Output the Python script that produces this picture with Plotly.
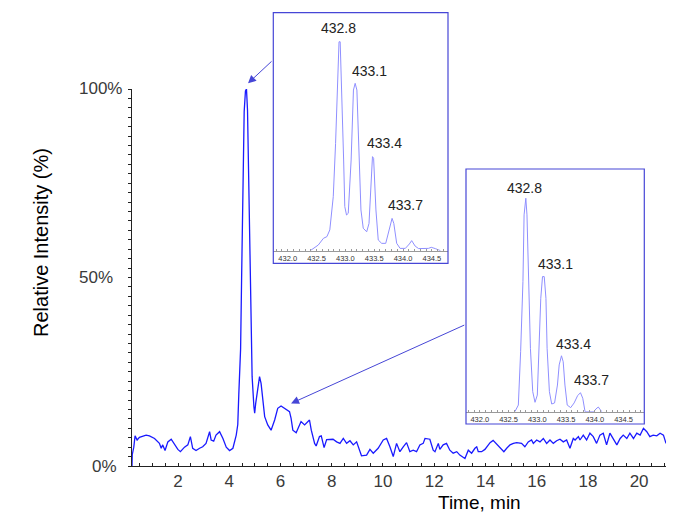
import plotly.graph_objects as go

# ---------------- data ----------------
time_min = [0.20, 0.21, 0.27, 0.32, 0.40, 0.49, 0.75, 0.88, 1.08, 1.27, 1.34, 1.40, 1.49, 1.60, 1.73,
            1.86, 1.99, 2.09, 2.25, 2.38, 2.48, 2.57, 2.70, 2.84, 2.96, 3.09, 3.23, 3.29, 3.39, 3.48,
            3.62, 3.75, 3.88, 4.01, 4.14, 4.27, 4.33, 4.37, 4.44, 4.48, 4.52, 4.58, 4.63, 4.67, 4.71,
            4.77, 4.83, 4.89, 4.96, 4.99, 5.03, 5.11, 5.18, 5.24, 5.31, 5.38, 5.50, 5.63, 5.77, 5.89,
            6.02, 6.16, 6.35, 6.41, 6.48, 6.61, 6.70, 6.80, 6.94, 7.07, 7.13, 7.20, 7.33, 7.39, 7.52,
            7.59, 7.70, 7.80, 8.05, 8.19, 8.32, 8.45, 8.58, 8.71, 8.84, 8.97, 9.10, 9.16, 9.36, 9.49,
            9.62, 9.81, 10.01, 10.14, 10.27, 10.40, 10.53, 10.66, 10.79, 10.92, 11.05, 11.18, 11.31,
            11.44, 11.57, 11.64, 11.83, 11.96, 12.03, 12.16, 12.22, 12.35, 12.48, 12.61, 12.74, 12.88,
            13.00, 13.20, 13.33, 13.46, 13.59, 13.66, 13.72, 13.85, 13.98, 14.18, 14.30, 14.44, 14.57,
            14.72, 14.83, 14.96, 15.09, 15.22, 15.41, 15.54, 15.67, 15.80, 15.87, 16.00, 16.13, 16.26,
            16.39, 16.52, 16.65, 16.78, 16.91, 17.04, 17.17, 17.30, 17.43, 17.50, 17.63, 17.69, 17.82,
            17.95, 18.08, 18.21, 18.34, 18.47, 18.60, 18.73, 18.86, 18.99, 19.13, 19.26, 19.38, 19.52,
            19.64, 19.78, 19.91, 20.04, 20.17, 20.30, 20.42, 20.55, 20.69, 20.82, 20.95, 21.05]
intensity = [0.0, 3.0, 5.0, 8.0, 6.9, 7.6, 8.2, 8.0, 7.3, 6.0, 4.7, 5.6, 4.1, 6.4, 7.1,
             5.6, 4.4, 3.8, 5.0, 5.6, 7.8, 4.7, 4.1, 4.7, 5.1, 6.0, 9.1, 6.9, 6.6, 8.2,
             9.1, 7.3, 5.0, 4.1, 4.7, 8.2, 11.0, 19.0, 31.0, 50.0, 68.0, 94.0, 99.5, 100.0, 94.4,
             67.9, 45.8, 23.7, 15.7, 14.0, 16.6, 21.0, 23.7, 21.9, 16.6, 13.1, 10.9, 9.5, 12.2, 15.3,
             15.9, 15.3, 14.4, 12.7, 9.5, 8.8, 10.4, 11.8, 10.9, 12.0, 12.2, 9.5, 6.0, 5.3, 7.8,
             8.0, 4.9, 7.0, 7.1, 6.4, 6.0, 7.3, 6.0, 6.7, 5.6, 6.4, 3.4, 2.7, 2.9, 4.4,
             3.4, 4.7, 6.9, 7.3, 5.1, 2.5, 6.0, 3.8, 5.1, 6.2, 3.8, 4.2, 3.8,
             5.6, 6.0, 7.3, 7.1, 4.2, 3.8, 6.0, 4.4, 5.6, 6.0, 4.2, 3.4, 3.8,
             2.9, 2.0, 4.2, 3.4, 4.7, 5.1, 3.8, 3.8, 4.4, 6.2, 6.8, 5.8, 4.7,
             3.8, 4.7, 5.6, 6.0, 6.2, 6.0, 5.1, 6.4, 6.9, 6.0, 6.9, 6.4, 7.3,
             6.0, 6.9, 6.0, 6.7, 7.1, 6.4, 6.9, 4.7, 7.3, 6.9, 7.8, 6.9, 8.2,
             6.9, 8.7, 7.8, 6.0, 8.2, 8.7, 5.6, 8.7, 7.3, 5.6, 7.3, 8.2, 7.3,
             8.7, 7.3, 8.7, 8.2, 10.0, 9.1, 7.8, 8.2, 8.0, 8.7, 8.2, 6.0]

# mass spectrum, upper inset (m/z, relative intensity)
mz_inset1 = [432.39, 432.53, 432.62, 432.68, 432.73, 432.79, 432.83, 432.87, 432.89, 432.91, 432.94,
             432.97, 432.99, 433.02, 433.05, 433.10, 433.14, 433.17, 433.20, 433.23, 433.27, 433.31,
             433.37, 433.41, 433.45, 433.47, 433.49, 433.53, 433.57, 433.63, 433.70, 433.76, 433.81,
             433.84, 433.89, 433.95, 434.04, 434.11, 434.15, 434.21, 434.27, 434.44, 434.49, 434.56,
             434.65]
int_inset1 = [0, 2.7, 5.9, 6.7, 9.9, 25.7, 51, 82.9, 99.5, 99.5, 75,
              43.2, 21, 17, 17.8, 43.2, 76.5, 79.7, 76.5, 51.1, 19.4, 10.7,
              9.0, 13, 35.2, 44.8, 44, 19.4, 5.1, 3.5, 3.5, 9.9, 15.4,
              13, 3.5, 1.1, 1.1, 3.2, 4.8, 2.2, 1.0, 1.1, 1.6, 1.0,
              0]

# mass spectrum, lower inset
mz_inset2 = [432.61, 432.67, 432.71, 432.75, 432.77, 432.80, 432.82, 432.85, 432.88, 432.92, 432.96,
             433.00, 433.03, 433.06, 433.09, 433.12, 433.15, 433.17, 433.21, 433.25, 433.30, 433.35,
             433.38, 433.42, 433.45, 433.48, 433.52, 433.58, 433.64, 433.70, 433.75, 433.79, 433.83,
             433.98, 434.02, 434.06, 434.12]
int_inset2 = [0, 3.1, 28.1, 61, 92.2, 100, 92.2, 61, 29.7, 9.4, 4.4,
              7.8, 29.7, 53.1, 63.3, 63.3, 53.1, 29.7, 9.4, 3.6, 4.1, 12.5,
              21.9, 26.2, 23.4, 12.5, 3.1, 1.9, 4.1, 7.5, 8.9, 6.3, 0,
              0, 1.3, 2.2, 0]

peak_labels = ["432.8", "433.1", "433.4", "433.7"]

x_tick_vals = [2, 4, 6, 8, 10, 12, 14, 16, 18, 20]
y_tick_vals = [0, 50, 100]
y_tick_text = ["0%", "50%", "100%"]
inset_tick_vals = [432.0, 432.5, 433.0, 433.5, 434.0, 434.5]

# ---------------- layout helpers ----------------
W, H = 685, 516
def px(x):
    return x / W
def py(y):
    return (H - y) / H

FONT = "Liberation Sans, Arial, sans-serif"
BOX = "#4646d6"
TRACE = "#1a1aff"
LIGHT = "#8f8fff"

fig = go.Figure()
fig.add_trace(go.Scatter(x=time_min, y=intensity, mode="lines",
                         line=dict(color=TRACE, width=1.3), xaxis="x", yaxis="y",
                         hoverinfo="skip", showlegend=False))
fig.add_trace(go.Scatter(x=mz_inset1, y=int_inset1, mode="lines",
                         line=dict(color=LIGHT, width=1), xaxis="x2", yaxis="y2",
                         hoverinfo="skip", showlegend=False))
fig.add_trace(go.Scatter(x=mz_inset2, y=int_inset2, mode="lines",
                         line=dict(color=LIGHT, width=1), xaxis="x3", yaxis="y3",
                         hoverinfo="skip", showlegend=False))

inset_x = dict(showline=True, linecolor="#9a9a9a", linewidth=1, ticks="inside", ticklen=2,
               tickcolor="#9a9a9a", tickvals=inset_tick_vals, tickformat=".1f",
               tickfont=dict(family=FONT, size=7.5, color="#333333"),
               minor=dict(dtick=0.1, ticks="inside", ticklen=2, tickcolor="#9a9a9a"),
               showgrid=False, zeroline=False, fixedrange=True)
inset_y = dict(visible=False, showgrid=False, zeroline=False, fixedrange=True)

fig.update_layout(
    width=W, height=H,
    margin=dict(l=0, r=0, t=0, b=0),
    paper_bgcolor="white", plot_bgcolor="white",
    showlegend=False,
    xaxis=dict(domain=[px(132), px(666)], range=[0.2, 21.05], showline=True, linecolor="#222222",
               linewidth=1, ticks="inside", ticklen=3, tickcolor="#222222",
               tickvals=x_tick_vals, tickfont=dict(family=FONT, size=17, color="#3a3a3a"),
               minor=dict(dtick=0.5, tick0=0, ticks="inside", ticklen=3, tickcolor="#222222"),
               showgrid=False, zeroline=False, fixedrange=True, anchor="y"),
    yaxis=dict(domain=[py(466), py(89)], range=[0, 100], showline=True, linecolor="#222222",
               linewidth=1, ticks="outside", ticklen=3, tickcolor="#222222",
               tickmode="linear", tick0=0, dtick=2.5, showticklabels=False,
               showgrid=False, zeroline=False, fixedrange=True, anchor="x"),
    xaxis2=dict(domain=[px(273.3), px(448)], range=[431.75, 434.78], anchor="y2", **inset_x),
    yaxis2=dict(domain=[py(250.7), py(13)], range=[0, 113.2], anchor="x2", **inset_y),
    xaxis3=dict(domain=[px(466), px(644.3)], range=[431.76, 434.86], anchor="y3", **inset_x),
    yaxis3=dict(domain=[py(411.7), py(169)], range=[0, 113.7], anchor="x3", **inset_y),
)

# inset frames
fig.add_shape(type="rect", xref="paper", yref="paper", x0=px(273.3), x1=px(448),
              y0=py(263.3), y1=py(12.7), line=dict(color=BOX, width=1.2), layer="above")
fig.add_shape(type="rect", xref="paper", yref="paper", x0=px(466), x1=px(644.3),
              y0=py(424), y1=py(169), line=dict(color=BOX, width=1.2), layer="above")

ann = []
# y tick labels
for v, t in zip(y_tick_vals, y_tick_text):
    if v == 0:
        ann.append(dict(x=px(119), xref="paper", xanchor="right", y=v, yref="y", yanchor="middle",
                        text=t, showarrow=False, font=dict(family=FONT, size=17, color="#3a3a3a")))
    else:
        ann.append(dict(x=px(77), xref="paper", xanchor="left", y=v, yref="y", yanchor="middle",
                        text=t, showarrow=False, font=dict(family=FONT, size=17, color="#3a3a3a")))

# axis titles
ann.append(dict(x=px(41), y=py(243), xref="paper", yref="paper", text="Relative Intensity (%)",
                textangle=-90, showarrow=False, font=dict(family=FONT, size=20, color="black"),
                xanchor="center", yanchor="middle"))
ann.append(dict(x=px(479), y=py(502), xref="paper", yref="paper", text="Time, min",
                showarrow=False, font=dict(family=FONT, size=19, color="black"),
                xanchor="center", yanchor="middle"))

# peak labels in insets
lab1_pos = [(432.88, 105.9), (433.42, 85.6), (433.67, 51.1), (434.04, 21.8)]
lab2_pos = [(432.785, 105.0), (433.32, 69.2), (433.63, 31.7), (433.95, 14.9)]
for t, (x, y) in zip(peak_labels, lab1_pos):
    ann.append(dict(x=x, y=y, xref="x2", yref="y2", text=t, showarrow=False,
                    font=dict(family=FONT, size=14, color="#222222"), xanchor="center", yanchor="middle"))
for t, (x, y) in zip(peak_labels, lab2_pos):
    ann.append(dict(x=x, y=y, xref="x3", yref="y3", text=t, showarrow=False,
                    font=dict(family=FONT, size=14, color="#222222"), xanchor="center", yanchor="middle"))

# arrows from insets to the chromatogram
ann.append(dict(x=4.73, xref="x", y=py(83.3), yref="paper", ax=25, ay=-23.3, text="",
                showarrow=True, arrowhead=2, arrowsize=1.6, arrowwidth=1, arrowcolor=BOX, standoff=0))
ann.append(dict(x=6.41, xref="x", y=16.6, yref="y", ax=174.7, ay=-79, text="",
                showarrow=True, arrowhead=2, arrowsize=1.6, arrowwidth=1, arrowcolor=BOX, standoff=0))

fig.update_layout(annotations=ann)
fig.write_html("out.html", config={"displayModeBar": False},
               post_script="document.body.style.margin='0';document.body.style.padding='0';")
